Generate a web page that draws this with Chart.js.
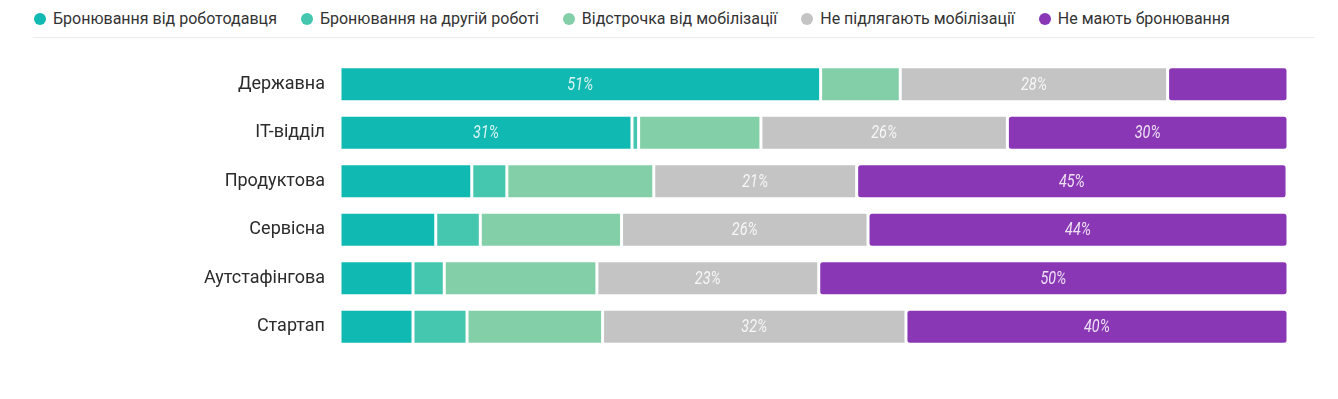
<!DOCTYPE html>
<html>
<head>
<meta charset="utf-8">
<script src="https://cdn.jsdelivr.net/npm/chart.js@4"></script>
<style>
  body { margin: 0; background: #fff; font-family: Roboto, sans-serif; }
  #wrap { position: relative; width: 1338px; height: 399px; }
  #legend {
    position: absolute; left: 33px; top: 0; width: 1282px; height: 38px;
    border-bottom: 1px solid #ececec; box-sizing: border-box;
    display: flex; align-items: center;
  }
  .item { display: flex; align-items: center; margin-right: 23px; font-size: 16px; color: #333; }
  .dot { width: 12px; height: 12px; border-radius: 50%; margin: 0 7px 0 1px; }
  canvas { position: absolute; left: 0; top: 0; }
</style>
</head>
<body>
<div id="wrap">
  <div id="legend"></div>
  <canvas id="chart" width="1338" height="399"></canvas>
</div>
<script>
/* ── Data ─────────────────────────────────────────────── */
const categories = ['Державна', 'ІТ-відділ', 'Продуктова', 'Сервісна', 'Аутстафінгова', 'Стартап'];

const seriesNames = [
  'Бронювання від роботодавця',
  'Бронювання на другій роботі',
  'Відстрочка від мобілізації',
  'Не підлягають мобілізації',
  'Не мають бронювання',
];

const employerReserve = [50.7, 30.8, 13.9, 10.1, 7.7, 7.7];
const secondJobReserve = [null, 0.7, 3.7, 4.7, 3.3, 5.7];
const deferment = [8.4, 12.9, 15.5, 14.9, 16.1, 14.3];
const notSubject = [28.2, 26.0, 21.4, 26.0, 23.4, 32.0];
const noReserve = [12.7, 29.6, 45.4, 44.3, 49.5, 40.3];

const seriesColors = ['#10B9B1', '#45C7AF', '#83CFA7', '#C4C4C4', '#8A37B5'];

/* ── Legend (HTML) ────────────────────────────────────── */
const legendEl = document.getElementById('legend');
seriesNames.forEach((name, i) => {
  const item = document.createElement('div');
  item.className = 'item';
  item.innerHTML = `<span class="dot" style="background:${seriesColors[i]}"></span>${name}`;
  legendEl.appendChild(item);
});

/* ── Value labels inside the bars ─────────────────────── */
const valueLabels = {
  id: 'valueLabels',
  afterDatasetsDraw(chart) {
    const ctx = chart.ctx;
    ctx.save();
    ctx.font = 'italic 18px Roboto';
    ctx.fillStyle = 'rgba(255,255,255,0.85)';
    ctx.textAlign = 'center';
    ctx.textBaseline = 'middle';
    chart.data.datasets.forEach((ds, di) => {
      const meta = chart.getDatasetMeta(di);
      meta.data.forEach((bar, i) => {
        const v = ds.data[i];
        if (v == null || v < 20) return;
        const cx = (bar.x + bar.base) / 2;
        ctx.save();
        ctx.translate(cx, bar.y + 1);
        ctx.scale(0.8, 1);
        ctx.fillText(Math.round(v) + '%', 0, 0);
        ctx.restore();
      });
    });
    ctx.restore();
  },
};

const seriesData = [employerReserve, secondJobReserve, deferment, notSubject, noReserve];

new Chart(document.getElementById('chart'), {
  type: 'bar',
  data: {
    labels: categories,
    datasets: seriesData.map((data, i) => ({
      label: seriesNames[i],
      data,
      backgroundColor: seriesColors[i],
      borderColor: '#fff',
      borderWidth: 1.5,
      borderRadius: 4,
      borderSkipped: false,
      barPercentage: 0.72,
      categoryPercentage: 1,
    })),
  },
  options: {
    indexAxis: 'y',
    responsive: false,
    animation: false,
    layout: { padding: { left: 33, right: 50, top: 60, bottom: 48 } },
    plugins: {
      legend: { display: false },
      tooltip: { enabled: false },
    },
    scales: {
      x: { stacked: true, min: 0, max: 100, display: false },
      y: {
        stacked: true,
        grid: { display: false, drawTicks: false },
        border: { display: false },
        ticks: { color: '#2b2b2b', font: { family: 'Roboto', size: 18 }, padding: 15 },
        afterFit: (scale) => { scale.width = 307; },
      },
    },
  },
  plugins: [valueLabels],
});
</script>
</body>
</html>
